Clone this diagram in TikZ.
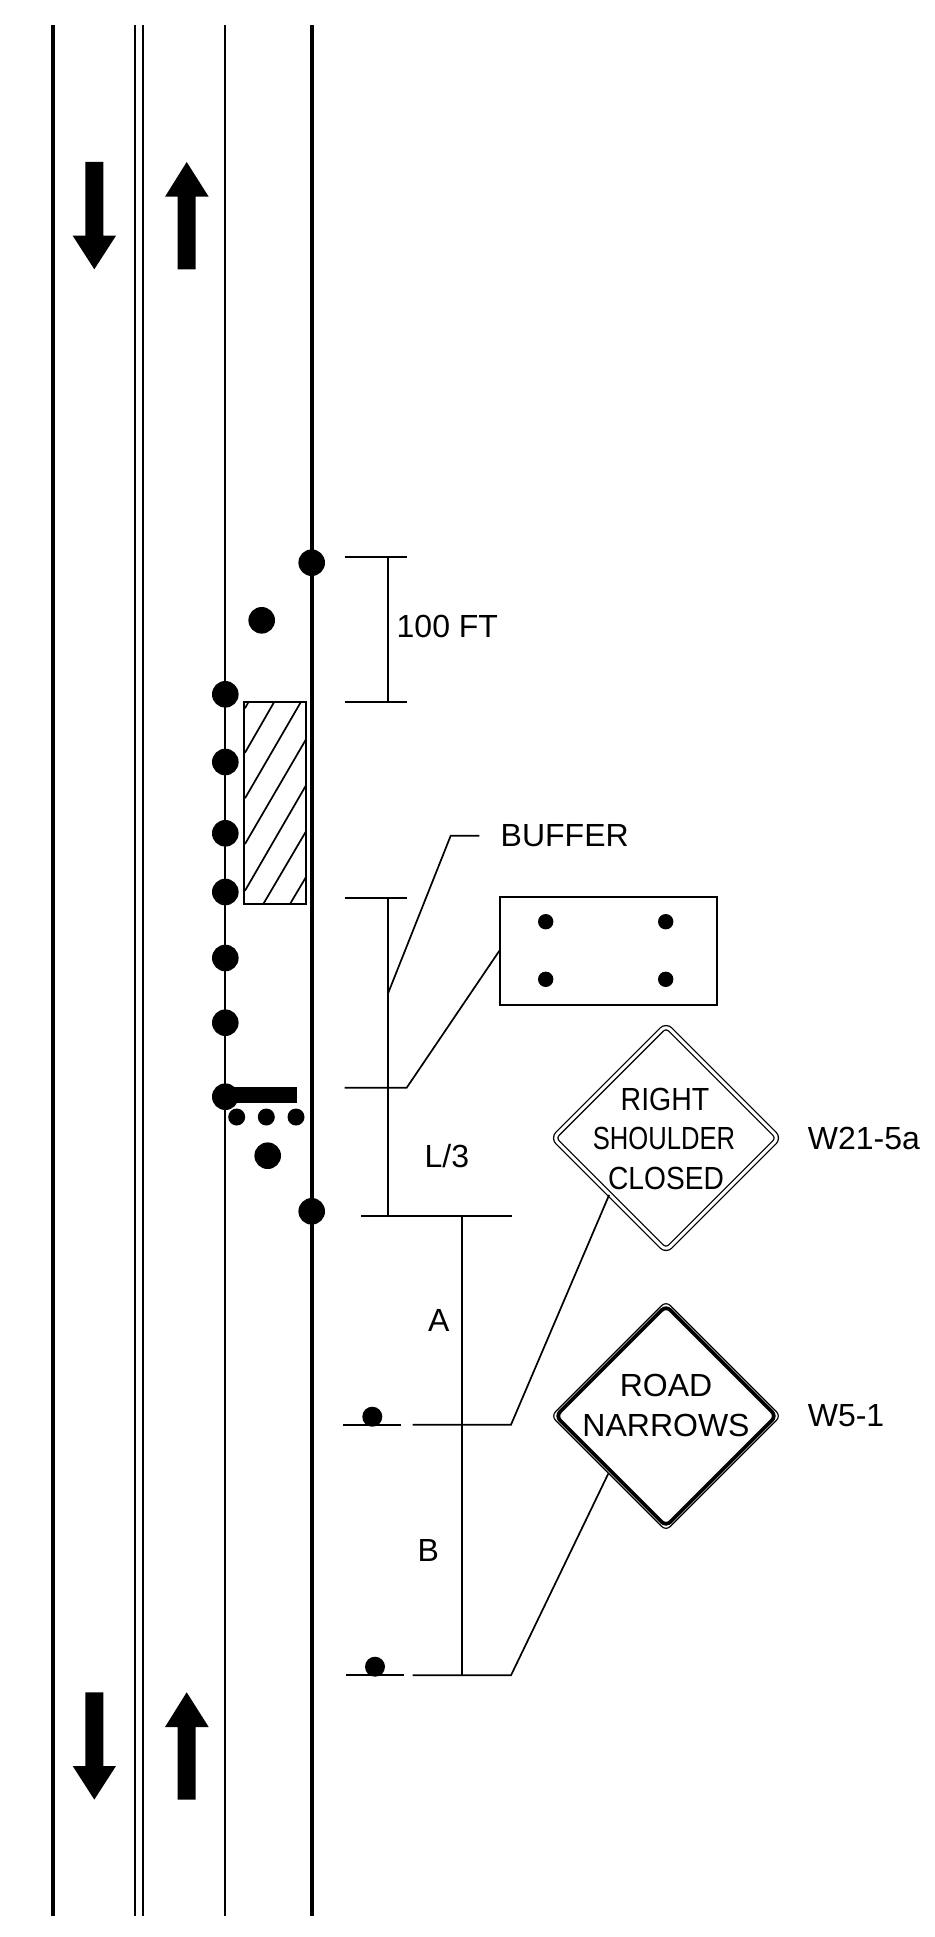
\documentclass[tikz,border=0pt]{standalone}
\usepackage{fontspec}
\setmainfont{Liberation Sans}
\usepackage{tikz}
\usetikzlibrary{shapes.geometric,positioning}

\begin{document}
\begin{tikzpicture}[
    x=1pt, y=-1pt,
    every node/.style={inner sep=0pt, font=\fontsize{32}{36}\selectfont},
    roadedge/.style={line width=4pt},
    roadline/.style={line width=2pt},
    dimline/.style={line width=1.7pt},
    cone/.style={circle, fill=black, minimum size=26.6pt},
    smallcone/.style={circle, fill=black, minimum size=17pt},
    boxdot/.style={circle, fill=black, minimum size=15.4pt},
    postdot/.style={circle, fill=black, minimum size=20pt},
    signbox/.style={diamond, shape aspect=1, draw, rounded corners=6pt, minimum width=230pt, minimum height=230pt},
    label/.style={anchor=base west}
]
\useasboundingbox (0,0) rectangle (934,1937);

% Road lines
\draw[roadedge] (52.7,25) -- (52.7,1916);
\draw[roadline] (134.7,25) -- (134.7,1916);
\draw[roadline] (143.3,25) -- (143.3,1916);
\draw[roadline] (225.3,25) -- (225.3,1916);
\draw[roadedge] (312,25) -- (312,1916);

% Traffic arrows, top
\fill (85.3,162) -- (103.3,162) -- (103.3,235.7) -- (116,235.7) -- (94.3,269.3) -- (72.7,235.7) -- (85.3,235.7) -- cycle;
\fill (186.7,162) -- (208.7,196.7) -- (195.7,196.7) -- (195.7,269.3) -- (177.7,269.3) -- (177.7,196.7) -- (165,196.7) -- cycle;

% Traffic arrows, bottom
\fill (85.3,1692.3) -- (103.3,1692.3) -- (103.3,1766) -- (116,1766) -- (94.3,1799.6) -- (72.7,1766) -- (85.3,1766) -- cycle;
\fill (186.7,1692.3) -- (208.7,1727) -- (195.7,1727) -- (195.7,1799.6) -- (177.7,1799.6) -- (177.7,1727) -- (165,1727) -- cycle;

% Work area
\draw[dimline] (244.3,702.3) rectangle (306.2,904);
\draw[dimline] (245,708.3) -- (248.3,702.3);
\draw[dimline] (245,752.7) -- (274,702.3);
\draw[dimline] (245,798.3) -- (300.7,702.3);
\draw[dimline] (245,844) -- (306.2,739);
\draw[dimline] (245,890.7) -- (306.2,785);
\draw[dimline] (263.3,904) -- (306.2,831);
\draw[dimline] (290,904) -- (306.2,876.7);

% Channelizing devices
\node[cone] (coneedgea) at (311.7,562.7) {};
\node[cone] (coneshift) at (261.7,620.3) {};
\node[cone] (conea) at (225.3,694.3) {};
\node[cone] (coneb) at (225.3,762) {};
\node[cone] (conec) at (225.3,833.3) {};
\node[cone] (coned) at (225.3,892) {};
\node[cone] (conee) at (225.3,958) {};
\node[cone] (conef) at (225.3,1022.7) {};
\node[cone] (coneg) at (225.3,1096.7) {};
\node[cone] (conetaper) at (267.7,1155.7) {};
\node[cone] (coneedgeb) at (311.7,1211.3) {};

% Truck and its lights
\fill (225.3,1086.7) rectangle (296.7,1102.7);
\node[smallcone] (lighta) at (236.7,1117) {};
\node[smallcone] (lightb) at (266.3,1117) {};
\node[smallcone] (lightc) at (296,1117) {};

% 100 FT dimension
\coordinate (hundredtop) at (388.3,556.7);
\coordinate (hundredbot) at (388.3,702.3);
\draw[dimline] (344.7,556.7) -- (406.7,556.7);
\draw[dimline] (344.7,702.3) -- (406.7,702.3);
\draw[dimline] (hundredtop) -- (hundredbot);
\node[label] (hundred) at (396.5,637.7) {100 FT};

% Buffer
\node[label] (buffer) at (500.5,846.7) {BUFFER};
\coordinate (bufferlead) at (450.7,835.7);
\coordinate (bufferfoot) at (388.3,992.7);
\draw[dimline] (479.3,835.7) -- (bufferlead) -- (bufferfoot);

% Arrow board
\node[draw, line width=1.7pt, minimum width=216.7pt, minimum height=108pt] (board) at (608.6,950.7) {};
\node[boxdot] (boarda) at (545.7,921.7) {};
\node[boxdot] (boardb) at (665.7,921.7) {};
\node[boxdot] (boardc) at (545.7,979.3) {};
\node[boxdot] (boardd) at (665.7,979.3) {};
\coordinate (boardtick) at (406.7,1087.7);
\draw[dimline] (344.7,1087.7) -- (boardtick) -- (board.west);

% L/3 dimension
\coordinate (thirdtop) at (388.3,898.3);
\coordinate (thirdbot) at (388.3,1215.7);
\draw[dimline] (344.7,898.3) -- (406.7,898.3);
\draw[dimline] (thirdtop) -- (thirdbot);
\draw[roadline] (361,1215.7) -- (511.7,1215.7);
\node[label] (third) at (424.5,1167.3) {L/3};

% A and B dimension
\coordinate (spacetop) at (462,1215.7);
\coordinate (spacebot) at (462,1675.3);
\draw[dimline] (spacetop) -- (spacebot);
\node[label] (spacea) at (428,1331.7) {A};
\node[label] (spaceb) at (417.5,1561.7) {B};

% Sign posts
\draw[roadline] (343.3,1425.3) -- (401,1425.3);
\node[postdot] (posta) at (372.3,1416.7) {};
\draw[roadline] (346.3,1675.3) -- (404.3,1675.3);
\node[postdot] (postb) at (375,1666.7) {};

% Right shoulder sign
\node[signbox, line width=1.3pt, double, double distance=3pt, minimum width=226pt, minimum height=226pt] (signshoulder) at (666,1138) {};
\node[anchor=base, xscale=0.89] (rightword) at (665,1110) {RIGHT};
\node[anchor=base, xscale=0.8] (shoulderword) at (664,1149.5) {SHOULDER};
\node[anchor=base, xscale=0.88] (closedword) at (666,1189.7) {CLOSED};
\node[right=28pt of signshoulder] (codea) {W21-5a};

% Road narrows sign
\node[signbox, line width=1.2pt] (signroad) at (666,1416) {};
\node[signbox, line width=3.8pt, minimum width=222pt, minimum height=222pt] (signroadin) at (666,1416) {};
\node[anchor=base] (roadword) at (666,1396) {ROAD};
\node[anchor=base] (narrowsword) at (666,1436) {NARROWS};
\node[right=26pt of signroad] (codeb) {W5-1};

% Leaders
\coordinate (leadera) at (511,1424.7);
\coordinate (leaderb) at (511,1675.3);
\draw[dimline] (412.7,1424.7) -- (leadera) -- (signshoulder.south west);
\draw[dimline] (412.7,1675.3) -- (leaderb) -- (signroad.south west);

\end{tikzpicture}
\end{document}
